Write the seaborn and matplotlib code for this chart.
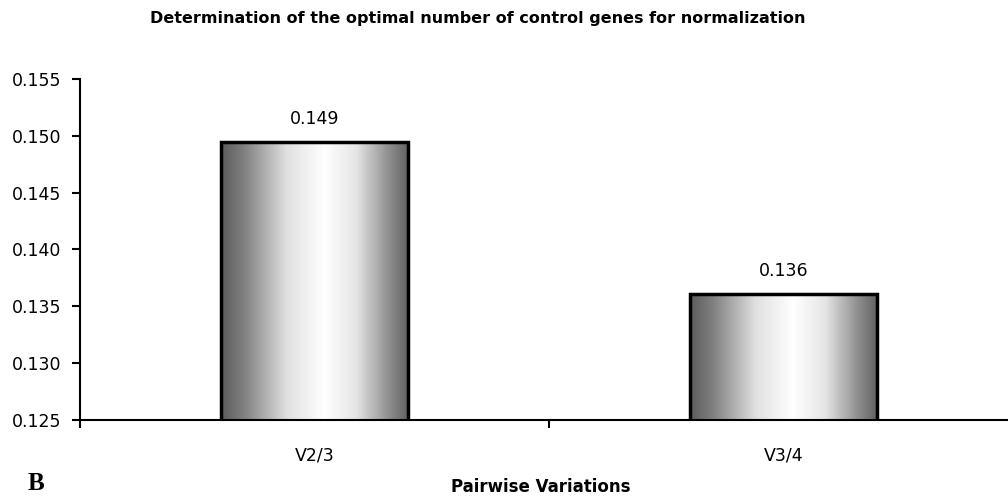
import numpy as np
import pandas as pd
import matplotlib
matplotlib.use("Agg")
import matplotlib.pyplot as plt
from matplotlib.colors import LinearSegmentedColormap
import seaborn as sns

categories = ["V2/3", "V3/4"]
values = [0.1495, 0.1361]
value_labels = ["0.149", "0.136"]
yticks = [0.125, 0.130, 0.135, 0.140, 0.145, 0.150, 0.155]

sns.set_style("white")
plt.rcParams['font.family'] = ['DejaVu Sans']
plt.rcParams['text.color'] = 'black'
plt.rcParams['xtick.color'] = 'black'
plt.rcParams['ytick.color'] = 'black'

fig = plt.figure(figsize=(10.08, 4.97), dpi=100)
ax = fig.add_axes([80/1008, 77/497, 938/1008, (420-79)/497])

df = pd.DataFrame({"cat": categories, "val": values})
sns.barplot(data=df, x="cat", y="val", ax=ax, width=0.4, color="white",
            edgecolor="black", linewidth=2.5, bottom=0)

ax.set_ylim(0.125, 0.155)
ax.set_xlim(-0.5, 1.5)

cmap = LinearSegmentedColormap.from_list(
    "cyl", [(0.0, (0.36, 0.36, 0.36)), (0.12, (0.5, 0.5, 0.5)),
            (0.35, (0.88, 0.88, 0.88)), (0.55, (1, 1, 1)),
            (0.72, (0.9, 0.9, 0.9)), (0.9, (0.55, 0.55, 0.55)),
            (1.0, (0.38, 0.38, 0.38))])
grad = np.linspace(0, 1, 256).reshape(1, -1)
for p, lab in zip(ax.patches, value_labels):
    x0, w = p.get_x(), p.get_width()
    h = p.get_height()
    im = ax.imshow(grad, cmap=cmap, aspect="auto",
                   extent=[x0, x0 + w, 0.125, h], zorder=p.get_zorder() - 0.1,
                   interpolation="bicubic")
    im.set_clip_path(p)
    p.set_facecolor("none")
    p.set_zorder(3)
    ax.text(x0 + w / 2, h + 0.0012, lab, ha="center", va="bottom", fontsize=12.5)

ax.set_xlim(-0.5, 1.5)
ax.set_ylim(0.125, 0.155)
ax.set_yticks(yticks)
ax.set_yticklabels([f"{t:.3f}" for t in yticks], fontsize=12.5)
ax.set_xticks([-0.5, 0.5, 1.5])
ax.set_xticklabels([])
ax.set_xticks([0, 1], minor=True)
ax.set_xticklabels(categories, minor=True, fontsize=12.5)
ax.tick_params(axis="x", which="minor", length=0, pad=19)
ax.tick_params(axis="x", which="major", length=6, width=1.5, direction="out", bottom=True)
ax.tick_params(axis="y", length=6, width=1.5, direction="out", left=True, pad=7.5)

for s in ["top", "right"]:
    ax.spines[s].set_visible(False)
for s in ["left", "bottom"]:
    ax.spines[s].set_linewidth(1.5)
    ax.spines[s].set_color("black")

ax.set_xlabel("")
ax.set_ylabel("")
fig.text(478/1008, 1 - 18/497, "Determination of the optimal number of control genes for normalization",
         ha="center", va="center", fontsize=11.5, fontweight="bold")
fig.text(541/1008, 1 - 487/497, "Pairwise Variations",
         ha="center", va="center", fontsize=12, fontweight="bold")
fig.text(36/1008, 1 - 484/497, "B", ha="center", va="center", fontsize=18,
         fontweight="bold", family=["Liberation Serif", "DejaVu Serif"])

fig.savefig("out.png", dpi=100)
